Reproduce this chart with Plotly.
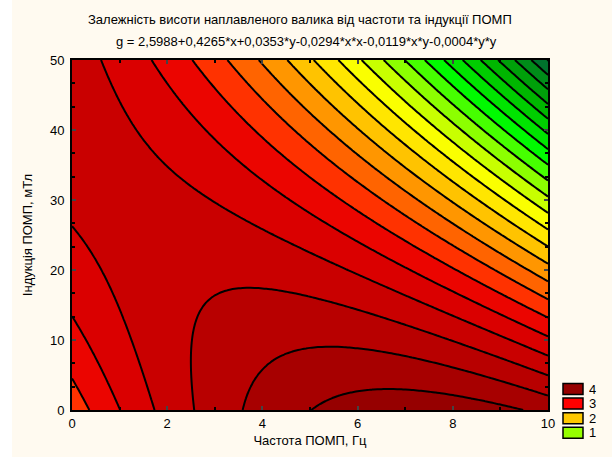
import numpy as np
import plotly.graph_objects as go

# Regression coefficients shown in the chart title: g = b0 + b1*x + b2*y + b3*x*x + b4*x*y + b5*y*y
coef = [2.5988, 0.4265, 0.0353, -0.0294, -0.0119, -0.0004]
x_vals = np.linspace(0, 10, 121)
y_vals = np.linspace(0, 50, 121)
x_ticks = [0, 2, 4, 6, 8, 10]
y_ticks = [0, 10, 20, 30, 40, 50]
legend_levels = ["4", "3", "2", "1"]
legend_colors = ["#960000", "#ff0000", "#ffc800", "#96ff00"]

# band colours (band midpoint value, colour)
band_mid = [-1.375, -1.125, -0.875, -0.625, -0.375, -0.125, 0.125, 0.375, 0.625, 0.875,
            1.125, 1.375, 1.625, 1.875, 2.125, 2.375, 2.625, 2.875, 3.125, 3.375,
            3.625, 3.875, 4.125]
band_col = ["rgb(0,100,50)", "rgb(0,115,45)", "rgb(0,140,25)", "rgb(0,160,10)", "rgb(0,182,0)",
            "rgb(0,205,0)", "rgb(0,228,0)", "rgb(0,250,0)", "rgb(70,255,0)", "rgb(140,255,0)",
            "rgb(200,255,0)", "rgb(250,255,0)", "rgb(255,230,0)", "rgb(255,195,0)",
            "rgb(255,150,0)", "rgb(255,100,0)", "rgb(255,50,0)", "rgb(235,5,0)",
            "rgb(218,0,0)", "rgb(201,0,0)", "rgb(184,0,0)", "rgb(167,0,0)", "rgb(150,0,0)"]

X, Y = np.meshgrid(x_vals, y_vals)
Z = coef[0] + coef[1]*X + coef[2]*Y + coef[3]*X*X + coef[4]*X*Y + coef[5]*Y*Y

c_start, c_end, c_size = -1.25, 4.0, 0.25
nc = int(round((c_end - c_start) / c_size)) + 1
cscale = [[((m - c_start) / c_size + 0.5) / nc, c] for m, c in zip(band_mid, band_col)]
cscale[0][0] = 0.0
cscale[-1][0] = 1.0

fig = go.Figure()
fig.add_trace(go.Contour(
    x=x_vals, y=y_vals, z=Z,
    colorscale=cscale,
    showscale=False,
    contours=dict(start=c_start, end=c_end, size=c_size, coloring="fill"),
    line=dict(color="black", width=2, smoothing=1),
    hoverinfo="skip",
))

font_main = "Liberation Sans, Arial, sans-serif"

fig.update_layout(
    width=612, height=457,
    margin=dict(l=72, r=64, t=60, b=47),
    paper_bgcolor="#fffaf0",
    plot_bgcolor="#fffaf0",
    font=dict(family=font_main, size=13, color="black"),
    showlegend=False,
)

fig.update_xaxes(
    range=[0, 10], tickvals=x_ticks, ticks="inside", ticklen=4, tickwidth=1.5,
    showline=True, linecolor="black", linewidth=2, mirror="allticks",
    showgrid=False, zeroline=False,
    minor=dict(dtick=1, ticks="inside", ticklen=3, tickcolor="black", showgrid=False),
    title=dict(text="Частота ПОМП, Гц", font=dict(size=13), standoff=6),
    tickfont=dict(size=13), layer="above traces",
)
fig.update_yaxes(
    range=[0, 50], tickvals=y_ticks, ticks="inside", ticklen=4, tickwidth=1.5,
    showline=True, linecolor="black", linewidth=2, mirror="allticks",
    showgrid=False, zeroline=False,
    minor=dict(dtick=10/3, ticks="inside", ticklen=3, tickcolor="black", showgrid=False),
    title=dict(text="Індукція ПОМП, мТл", font=dict(size=13), standoff=14),
    tickfont=dict(size=13), ticklabelstandoff=3, layer="above traces",
)

# title lines
fig.add_annotation(text="Залежність висоти наплавленого валика від частоти та індукції ПОМП",
                   xref="paper", yref="paper", x=(300-72)/476, y=1 + (60-20)/350,
                   showarrow=False, font=dict(size=13), xanchor="center", yanchor="middle")
fig.add_annotation(text="g = 2,5988+0,4265*x+0,0353*y-0,0294*x*x-0,0119*x*y-0,0004*y*y",
                   xref="paper", yref="paper", x=(306-72)/476, y=1 + (60-41)/350,
                   showarrow=False, font=dict(size=13), xanchor="center", yanchor="middle")

# white strip at left edge
fig.add_shape(type="rect", xref="paper", yref="paper",
              x0=(0-72)/476, x1=(12-72)/476, y0=-47/350, y1=1+60/350,
              fillcolor="white", line=dict(width=0), layer="below")

# legend boxes
for i, (lab, col) in enumerate(zip(legend_levels, legend_colors)):
    top = 383.5 + i*14.6
    bot = top + 11
    fig.add_shape(type="rect", xref="paper", yref="paper",
                  x0=(563-72)/476, x1=(583-72)/476,
                  y0=(410-bot)/350, y1=(410-top)/350,
                  fillcolor=col, line=dict(color="black", width=1.5))
    fig.add_annotation(text=lab, xref="paper", yref="paper",
                       x=(588-72)/476, y=(410-(top+bot)/2)/350,
                       xanchor="left", yanchor="middle", showarrow=False,
                       font=dict(size=13), height=13, borderpad=0)

fig.write_html("out.html", config={"displayModeBar": False},
               post_script="document.body.style.margin='0';document.body.style.overflow='hidden';")
